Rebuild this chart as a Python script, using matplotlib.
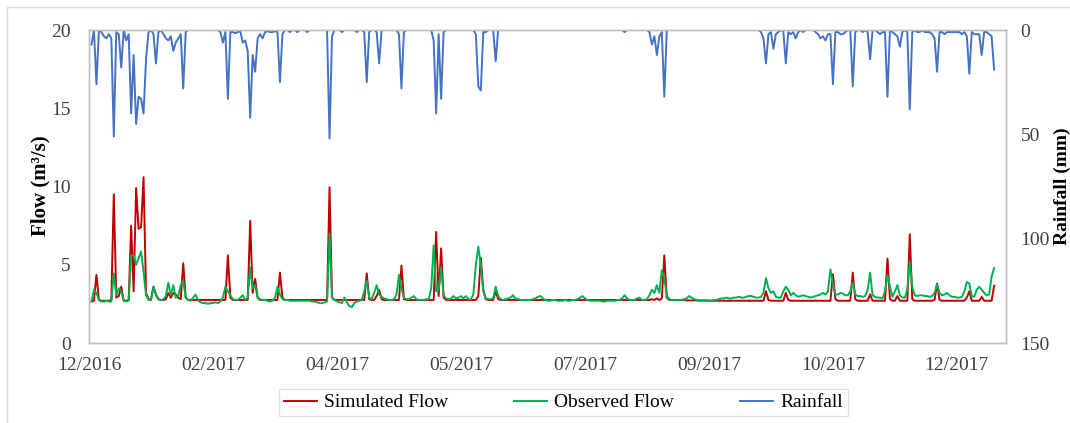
import matplotlib
matplotlib.use("Agg")
import matplotlib.pyplot as plt
import matplotlib.dates as mdates
import matplotlib.patches as mpatches
import pandas as pd

# daily series, 1 Jan 2017 - 31 Dec 2017
dates = pd.date_range("2017-01-01", periods=365, freq="D")

# rainfall (mm/day)
rainfall = [
    7, 0, 26, 0, 1, 3, 4, 2, 4, 51,
    1, 2, 18, 0, 5, 2, 40, 12, 45, 32,
    33, 40, 14, 1, 0, 2, 16, 1, 0, 2,
    4, 5, 3, 10, 6, 4, 2, 28, 1, 0,
    0, 0, 0, 0, 0, 0, 0, 0, 0, 0,
    0, 0, 1, 6, 1, 33, 1, 1, 1.5, 1,
    0.5, 6, 5, 10, 42, 12, 20, 4, 2, 4,
    1, 0.5, 1, 1, 0.5, 1, 25, 2, 0, 0,
    1, 0, 0, 1, 0, 0, 0, 1, 0, 0,
    0, 0, 0, 0, 0, 0, 52, 3, 0, 0,
    0, 1, 0, 0, 0, 0, 0, 1, 0, 0,
    1, 25, 1, 0, 0, 1, 16, 0, 0, 0,
    0, 0, 0, 0, 2, 28, 1, 0, 0, 0,
    0, 0, 0, 0, 0, 0, 0, 0, 5, 40,
    2, 33, 1, 0, 0, 0, 0, 0, 0, 0,
    0, 0, 0, 0, 0, 2, 27, 29, 1, 1,
    0, 0, 0, 15, 0, 0, 0, 0, 0, 0,
    0, 0, 0, 0, 0, 0, 0, 0, 0, 0,
    0, 0, 0, 0, 0, 0, 0, 0, 0, 0,
    0, 0, 0, 0, 0, 0, 0, 0, 0, 0,
    0, 0, 0, 0, 0, 0, 0, 0, 0, 0,
    0, 0, 0, 0, 0, 1, 0, 0, 0, 0,
    0, 0, 0, 0, 0, 1, 7, 3, 12, 3,
    1, 32, 0, 0, 0, 0, 0, 0, 0, 0,
    0, 0, 0, 0, 0, 0, 0, 0, 0, 0,
    0, 0, 0, 0, 0, 0, 0, 0, 0, 0,
    0, 0, 0, 0, 0, 0, 0, 0, 0, 0,
    1, 4, 16, 2, 1, 9, 2, 1, 0, 0.5,
    16, 1, 2, 1, 4, 1, 0, 1, 0, 0,
    0, 0, 1, 2, 4, 3, 5, 2, 2, 26,
    1, 1, 2, 2, 1, 0, 0, 27, 1, 0,
    0, 1, 0, 1, 14, 0, 0, 1, 2, 1,
    1, 32, 0, 1, 2, 3, 8, 1, 0, 1,
    38, 1, 0, 1, 1, 0, 1, 1, 1, 2,
    4, 20, 1, 1, 2, 1, 1, 1, 1, 1,
    1, 2, 1, 3, 21, 1, 2, 2, 2, 12,
    1, 1, 2, 3, 19,
]

# simulated flow (m3/s)
simulated = [
    2.65, 2.7, 4.35, 2.75, 2.7, 2.7, 2.7, 2.7, 2.75, 9.5,
    2.9, 3.0, 3.6, 2.7, 2.7, 2.75, 7.5, 3.3, 9.9, 7.3,
    7.4, 10.6, 3.2, 2.8, 2.75, 3.6, 3.1, 2.8, 2.75, 2.75,
    2.8, 3.2, 2.9, 3.2, 3.1, 2.9, 2.8, 5.1, 2.9, 2.75,
    2.75, 2.75, 2.75, 2.75, 2.75, 2.75, 2.75, 2.75, 2.75, 2.75,
    2.75, 2.75, 2.75, 2.75, 2.75, 5.6, 2.9, 2.75, 2.75, 2.75,
    2.75, 2.75, 2.75, 2.75, 7.8, 3.2, 4.1, 2.9, 2.75, 2.75,
    2.75, 2.75, 2.75, 2.75, 2.75, 2.75, 4.5, 2.9, 2.75, 2.75,
    2.75, 2.75, 2.75, 2.75, 2.75, 2.75, 2.75, 2.75, 2.75, 2.75,
    2.75, 2.75, 2.75, 2.75, 2.75, 2.75, 9.95, 2.9, 2.75, 2.75,
    2.75, 2.75, 2.75, 2.75, 2.75, 2.75, 2.75, 2.75, 2.75, 2.75,
    2.75, 4.45, 2.8, 2.75, 2.75, 3.0, 3.4, 2.8, 2.75, 2.75,
    2.75, 2.75, 2.75, 2.75, 2.75, 4.95, 2.8, 2.75, 2.75, 2.75,
    2.75, 2.75, 2.75, 2.75, 2.75, 2.75, 2.75, 2.75, 2.75, 7.1,
    3.0, 6.05, 2.9, 2.75, 2.75, 2.75, 2.75, 2.75, 2.75, 2.75,
    2.75, 2.75, 2.75, 2.75, 2.75, 2.75, 3.0, 5.45, 3.4, 2.8,
    2.75, 2.75, 2.75, 3.3, 2.8, 2.75, 2.75, 2.75, 2.75, 2.75,
    2.75, 2.75, 2.75, 2.75, 2.75, 2.75, 2.75, 2.75, 2.75, 2.75,
    2.75, 2.75, 2.75, 2.75, 2.75, 2.75, 2.75, 2.75, 2.75, 2.75,
    2.75, 2.75, 2.75, 2.75, 2.75, 2.75, 2.75, 2.75, 2.75, 2.75,
    2.75, 2.75, 2.75, 2.75, 2.75, 2.75, 2.75, 2.75, 2.75, 2.75,
    2.75, 2.75, 2.75, 2.75, 2.75, 2.75, 2.75, 2.75, 2.75, 2.75,
    2.75, 2.75, 2.75, 2.75, 2.75, 2.75, 2.8, 2.75, 2.85, 2.75,
    2.85, 5.6, 2.9, 2.75, 2.75, 2.75, 2.75, 2.75, 2.75, 2.75,
    2.72, 2.72, 2.72, 2.72, 2.72, 2.72, 2.72, 2.72, 2.72, 2.72,
    2.7, 2.7, 2.7, 2.7, 2.7, 2.7, 2.7, 2.7, 2.7, 2.7,
    2.7, 2.7, 2.7, 2.7, 2.7, 2.7, 2.7, 2.7, 2.7, 2.7,
    2.7, 2.7, 3.3, 2.75, 2.7, 2.7, 2.7, 2.7, 2.7, 2.7,
    3.2, 2.75, 2.7, 2.7, 2.7, 2.7, 2.7, 2.7, 2.7, 2.7,
    2.7, 2.7, 2.7, 2.7, 2.7, 2.7, 2.7, 2.7, 2.7, 4.4,
    2.8, 2.7, 2.7, 2.7, 2.7, 2.7, 2.7, 4.5, 2.8, 2.7,
    2.7, 2.7, 2.7, 2.7, 3.1, 2.7, 2.7, 2.7, 2.7, 2.7,
    2.7, 5.4, 2.8, 2.7, 2.7, 3.0, 2.7, 2.7, 2.7, 2.7,
    6.95, 2.8, 2.7, 2.7, 2.7, 2.7, 2.7, 2.7, 2.7, 2.7,
    2.75, 3.8, 2.75, 2.7, 2.7, 2.7, 2.7, 2.7, 2.7, 2.7,
    2.7, 2.7, 2.7, 2.9, 3.3, 2.7, 2.7, 2.7, 2.7, 2.95,
    2.7, 2.7, 2.7, 2.7, 3.65,
]

# observed flow (m3/s)
observed = [
    2.65, 3.4, 3.2, 2.75, 2.65, 2.65, 2.7, 2.65, 2.65, 4.45,
    3.05, 3.5, 3.3, 2.7, 2.65, 2.7, 5.6, 5.6, 5.0, 5.4,
    5.85, 4.55, 3.05, 2.75, 2.8, 3.6, 3.05, 2.8, 2.75, 2.8,
    3.0, 3.85, 3.05, 3.7, 2.9, 3.0, 3.7, 4.0, 2.9, 2.75,
    2.7, 2.9, 3.1, 2.7, 2.6, 2.55, 2.55, 2.5, 2.55, 2.55,
    2.6, 2.55, 2.65, 2.9, 3.6, 3.3, 3.05, 2.8, 2.75, 2.75,
    2.9, 3.05, 2.75, 2.9, 4.8, 3.5, 3.7, 2.9, 2.8, 2.75,
    2.75, 2.7, 2.65, 2.7, 2.9, 3.6, 3.1, 2.8, 2.75, 2.75,
    2.7, 2.7, 2.7, 2.7, 2.7, 2.7, 2.7, 2.7, 2.7, 2.65,
    2.65, 2.6, 2.55, 2.55, 2.6, 2.65, 7.0, 2.9, 2.75, 2.65,
    2.6, 2.55, 2.9, 2.6, 2.35, 2.3, 2.55, 2.65, 2.7, 2.75,
    3.3, 4.0, 2.9, 2.8, 3.2, 3.7, 3.1, 2.95, 2.85, 2.8,
    2.75, 2.75, 2.8, 3.1, 4.35, 3.5, 2.9, 2.8, 2.8, 2.9,
    3.0, 2.8, 2.75, 2.75, 2.75, 2.8, 2.8, 3.5, 6.25, 3.3,
    3.4, 4.85, 3.05, 2.85, 2.8, 2.85, 3.0, 2.85, 2.9, 3.0,
    2.85, 3.0, 2.8, 2.8, 3.1, 5.0, 6.15, 5.0, 3.3, 2.85,
    2.8, 2.8, 2.85, 3.6, 3.0, 2.8, 2.75, 2.8, 2.85, 2.9,
    3.05, 2.85, 2.8, 2.75, 2.75, 2.75, 2.75, 2.75, 2.8, 2.85,
    2.95, 3.0, 2.85, 2.75, 2.7, 2.7, 2.75, 2.75, 2.7, 2.7,
    2.7, 2.75, 2.7, 2.7, 2.75, 2.75, 2.8, 2.9, 3.0, 2.85,
    2.75, 2.7, 2.7, 2.7, 2.7, 2.7, 2.65, 2.65, 2.7, 2.7,
    2.7, 2.7, 2.75, 2.75, 2.85, 3.05, 2.85, 2.75, 2.75, 2.75,
    2.85, 2.9, 2.75, 2.75, 2.8, 3.05, 3.4, 3.2, 3.7, 3.2,
    4.65, 4.15, 3.0, 2.8, 2.75, 2.75, 2.75, 2.75, 2.75, 2.8,
    2.85, 3.0, 2.9, 2.8, 2.75, 2.7, 2.7, 2.7, 2.7, 2.7,
    2.7, 2.75, 2.75, 2.8, 2.85, 2.85, 2.9, 2.85, 2.85, 2.9,
    2.9, 2.95, 2.9, 2.9, 2.95, 3.0, 3.0, 2.95, 2.9, 2.9,
    2.95, 3.2, 4.15, 3.5, 3.2, 3.3, 2.95, 2.9, 2.9, 3.3,
    3.6, 3.4, 3.05, 3.2, 3.05, 2.95, 3.0, 3.05, 3.0, 2.95,
    2.9, 2.95, 3.0, 3.05, 3.1, 3.2, 3.1, 3.3, 4.7, 3.8,
    3.1, 3.1, 3.2, 3.15, 3.05, 3.05, 3.3, 3.85, 3.1, 3.0,
    3.0, 2.95, 3.0, 3.4, 4.5, 3.05, 2.95, 2.9, 2.9, 2.85,
    3.3, 4.35, 3.6, 2.95, 3.3, 3.7, 3.05, 2.9, 2.9, 3.4,
    5.2, 3.6, 3.05, 3.0, 3.05, 3.05, 3.0, 3.0, 2.95, 3.0,
    3.2, 3.75, 3.2, 3.05, 3.1, 3.2, 3.05, 2.95, 2.95, 2.9,
    2.9, 2.95, 3.3, 3.9, 3.8, 3.0, 2.95, 3.4, 3.6, 3.4,
    3.2, 3.05, 3.1, 4.25, 4.8,
]

# axis ticks every 50 days from 31 Dec 2016
axis_start = pd.Timestamp("2016-12-31")
tick_dates = pd.date_range(axis_start, periods=8, freq="50D")

flow_ticks = [0, 5, 10, 15, 20]
rain_ticks = [0, 50, 100, 150]

plt.rcParams["font.family"] = ["Liberation Serif", "DejaVu Serif"]

W, H = 1070, 423
fig = plt.figure(figsize=(W / 100, H / 100), dpi=100)

# outer chart-area border
fig.patches.append(mpatches.Rectangle((7 / W, -0.5), 2.0, 0.5 + 1 - 7 / H,
                                      transform=fig.transFigure, fill=False,
                                      edgecolor="#D9D9D9", lw=1))

ax = fig.add_axes([89 / W, 1 - 343 / H, 917 / W, 313 / H])
ax2 = ax.twinx()

l1, = ax.plot(dates, simulated, color="#C00000", lw=1.4, label="Simulated Flow")
l2, = ax.plot(dates, observed, color="#00B050", lw=1.4, label="Observed Flow")
l3, = ax2.plot(dates, rainfall, color="#4472C4", lw=1.4, label="Rainfall")

x0 = mdates.date2num(axis_start)
ax.set_xlim(x0, x0 + 369.8)
ax.set_ylim(0, 20)
ax.set_yticks(flow_ticks)
ax2.set_ylim(150, 0)
ax2.set_yticks(rain_ticks)

ax.set_xticks(tick_dates)
ax.xaxis.set_major_formatter(mdates.DateFormatter("%m/%Y"))

tick_color = "#404040"
ax.tick_params(axis="x", length=0, pad=10, labelsize=14, labelcolor=tick_color)
ax.tick_params(axis="y", length=0, pad=13, labelsize=14, labelcolor=tick_color)
ax2.tick_params(axis="y", length=0, pad=10.5, labelsize=14, labelcolor=tick_color)

for a in (ax, ax2):
    for s in a.spines.values():
        s.set_color("#BFBFBF")
        s.set_linewidth(1)

fig.text(40 / W, 1 - 186 / H, "Flow (m³/s)", rotation=90, ha="center",
         va="center", fontsize=15, fontweight="bold")
fig.text(1062 / W, 1 - 186 / H, "Rainfall (mm)", rotation=90, ha="center",
         va="center", fontsize=14, fontweight="bold")

leg = fig.legend(handles=[l1, l2, l3], loc="center",
                 bbox_to_anchor=(563.5 / W, 1 - 402.5 / H), ncol=3,
                 fontsize=14, frameon=True, fancybox=False,
                 edgecolor="#D9D9D9", handlelength=1.7, handletextpad=0.35,
                 columnspacing=3.4, borderpad=0.25, borderaxespad=0)
leg.get_frame().set_linewidth(1)

fig.savefig("out.png", dpi=100)
